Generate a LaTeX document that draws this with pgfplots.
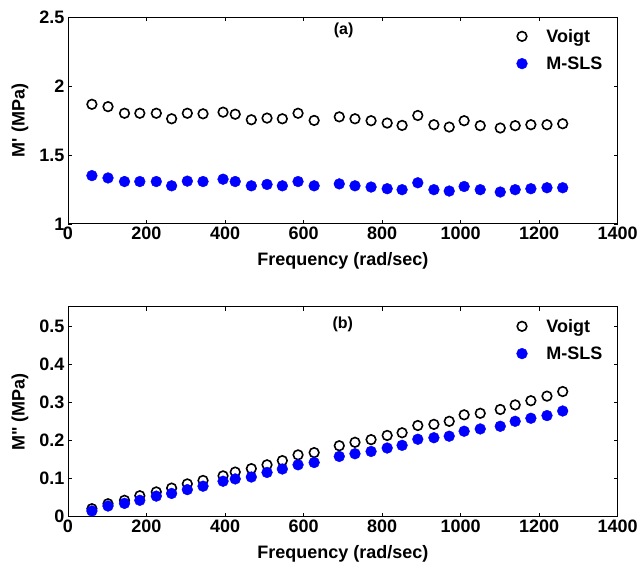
\documentclass[border=0pt]{standalone}
\usepackage{fontspec}
\setmainfont{Liberation Sans}
\usepackage{pgfplots}
\pgfplotsset{compat=1.18}
\definecolor{mblue}{RGB}{0,0,255}
\pgfplotstableread{
x v m
61 1.867 1.350
102 1.850 1.333
144 1.802 1.307
183 1.802 1.307
225 1.802 1.307
264 1.762 1.276
304 1.802 1.310
344 1.798 1.307
395 1.810 1.324
426 1.795 1.307
467 1.755 1.276
507 1.767 1.286
546 1.762 1.276
586 1.802 1.307
627 1.750 1.276
691 1.776 1.290
731 1.762 1.276
772 1.748 1.267
813 1.731 1.255
851 1.714 1.248
891 1.786 1.298
932 1.719 1.248
971 1.702 1.238
1009 1.748 1.271
1050 1.712 1.248
1101 1.695 1.231
1139 1.712 1.248
1179 1.719 1.255
1220 1.719 1.262
1260 1.726 1.262
}\tabA
\pgfplotstableread{
x v m
61 0.021 0.015
102 0.034 0.028
144 0.043 0.035
183 0.055 0.043
225 0.065 0.054
264 0.075 0.061
304 0.086 0.071
344 0.095 0.080
395 0.107 0.093
426 0.117 0.099
467 0.126 0.104
507 0.136 0.116
546 0.147 0.125
586 0.162 0.136
627 0.168 0.142
691 0.186 0.158
731 0.195 0.165
772 0.202 0.171
813 0.213 0.180
851 0.220 0.187
891 0.239 0.203
932 0.242 0.207
971 0.250 0.211
1009 0.267 0.224
1050 0.271 0.230
1101 0.281 0.237
1139 0.293 0.250
1179 0.304 0.258
1220 0.316 0.265
1260 0.328 0.277
}\tabB
\pgfplotsset{
  mystyle/.style={
    scale only axis, width=550pt, height=207pt,
    xmin=0, xmax=1400, xtick={0,200,...,1400},
    tick align=inside, major tick length=4pt,
    tick label style={font=\fontsize{18}{20}\selectfont\bfseries},
    /pgf/number format/assume math mode=true,
    /pgf/number format/1000 sep={},
    xlabel={Frequency (rad/sec)},
    xlabel style={at={(axis description cs:0.5,0)}, anchor=center, yshift=-37pt,
      font=\fontsize{18}{20}\selectfont\bfseries},
    ylabel style={at={(axis description cs:0,0.5)}, rotate=0, anchor=center,
      yshift=48pt, font=\fontsize{18}{20}\selectfont\bfseries},
    axis line style={line width=0.8pt},
    every tick/.style={line width=0.6pt},
    legend style={draw=none, fill=none, at={(0.978,0.957)}, anchor=north east,
      font=\fontsize{18}{20}\selectfont\bfseries, row sep=9pt, column sep=17pt,
      inner sep=1pt},
    legend cell align=left,
  },
  voigt/.style={only marks, mark=o, mark size=4.8pt, line width=1.6pt, black},
  msls/.style={only marks, mark=*, mark size=5.4pt, mblue, mark options={draw=mblue, fill=mblue}},
}
\begin{document}
\begin{tikzpicture}
\begin{axis}[mystyle, name=top, ymin=1, ymax=2.5, ytick={1,1.5,2,2.5},
  ylabel={M\textquotesingle{} (MPa)}]
\addplot[voigt] table[x=x,y=v] {\tabA};
\addlegendentry{Voigt}
\addplot[msls] table[x=x,y=m] {\tabA};
\addlegendentry{M-SLS}
\node[font=\fontsize{16}{18}\selectfont\bfseries] at (axis cs:702,2.40) {(a)};
\end{axis}
\begin{axis}[mystyle, at={(top.south west)}, anchor=north west, yshift=-83pt,
  height=210pt, ymin=0, ymax=0.55, ytick={0,0.1,...,0.5},
  yticklabels={0,0.1,0.2,0.3,0.4,0.5},
  ylabel={M\textquotedbl{} (MPa)}]
\addplot[voigt] table[x=x,y=v] {\tabB};
\addlegendentry{Voigt}
\addplot[msls] table[x=x,y=m] {\tabB};
\addlegendentry{M-SLS}
\node[font=\fontsize{16}{18}\selectfont\bfseries] at (axis cs:700,0.505) {(b)};
\end{axis}
\path (top.north west) ++(-68pt,17pt) rectangle ++(641pt,-568pt);
\end{tikzpicture}
\end{document}
